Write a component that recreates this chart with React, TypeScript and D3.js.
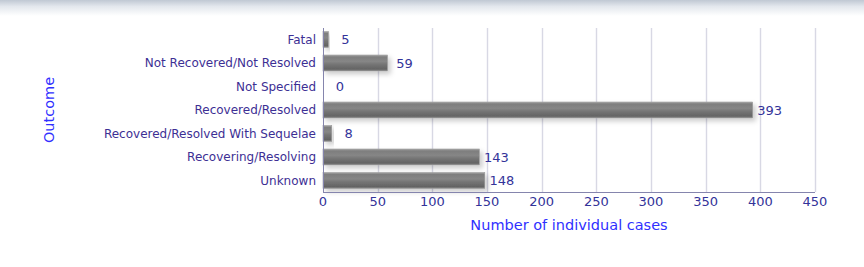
import React from "react";
import * as d3 from "d3";

const categories = [
  "Fatal",
  "Not Recovered/Not Resolved",
  "Not Specified",
  "Recovered/Resolved",
  "Recovered/Resolved With Sequelae",
  "Recovering/Resolving",
  "Unknown",
];
const values = [5, 59, 0, 393, 8, 143, 148];
const xTicks = [0, 50, 100, 150, 200, 250, 300, 350, 400, 450];
const xTitle = "Number of individual cases";
const yTitle = "Outcome";

const W = 864;
const H = 267;
const FONT = "'DejaVu Sans', Verdana, sans-serif";

export default function App() {
  const x = d3.scaleLinear().domain([0, 450]).range([323, 815]);
  const y = d3
    .scaleBand<string>()
    .domain(categories)
    .range([28, 192])
    .paddingInner(0.32)
    .paddingOuter(0.15);
  const bw = y.bandwidth();

  return (
    <svg
      width={W}
      height={H}
      style={{ position: "absolute", left: 0, top: 0, display: "block", fontFamily: FONT }}
    >
      <defs>
        <linearGradient id="topband" x1="0" y1="0" x2="0" y2="1">
          <stop offset="0%" stopColor="#c0c8d3" />
          <stop offset="40%" stopColor="#e3e7ed" />
          <stop offset="100%" stopColor="#ffffff" />
        </linearGradient>
        <linearGradient id="barfill" x1="0" y1="0" x2="0" y2="1">
          <stop offset="0%" stopColor="#a8a8a8" />
          <stop offset="12%" stopColor="#7e7e7e" />
          <stop offset="40%" stopColor="#868686" />
          <stop offset="60%" stopColor="#747474" />
          <stop offset="88%" stopColor="#646464" />
          <stop offset="100%" stopColor="#8c8c8c" />
        </linearGradient>
        <filter id="shadow" x="-10%" y="-40%" width="130%" height="200%">
          <feDropShadow dx="3" dy="3" stdDeviation="2.5" floodColor="#000" floodOpacity="0.2" />
        </filter>
      </defs>
      <rect x={0} y={0} width={W} height={H} fill="#ffffff" />
      <rect x={0} y={0} width={W} height={16} fill="url(#topband)" />

      {/* grid */}
      {xTicks.map((t) =>
        t === 0 ? null : (
          <line
            key={"g" + t}
            x1={Math.round(x(t)) + 0.5}
            x2={Math.round(x(t)) + 0.5}
            y1={28}
            y2={192}
            stroke="#d8d8e4"
            strokeWidth={1.4}
          />
        )
      )}

      {/* bars */}
      {categories.map((c, i) => {
        const v = values[i];
        const yy = y(c)!;
        return (
          <g key={c}>
            {v > 0 && (
              <rect
                x={x(0)}
                y={yy}
                width={x(v) - x(0)}
                height={bw}
                fill="url(#barfill)"
                stroke="#9a9a9a"
                strokeWidth={0.6}
                filter="url(#shadow)"
              />
            )}
            <text
              x={x(v) + 17}
              y={yy + bw / 2}
              dy="0.36em"
              textAnchor="middle"
              fontSize={13}
              fill="#333399"
            >
              {v}
            </text>
            <text
              x={316}
              y={yy + bw / 2}
              dy="0.36em"
              textAnchor="end"
              fontSize={12}
              fill="#3d2f94"
            >
              {c}
            </text>
          </g>
        );
      })}

      {/* axes */}
      <line x1={323.5} x2={323.5} y1={28} y2={192.5} stroke="#8585ad" strokeWidth={1} />
      <line x1={323} x2={815} y1={192.5} y2={192.5} stroke="#8585ad" strokeWidth={1} />

      {xTicks.map((t) => (
        <text
          key={"t" + t}
          x={x(t)}
          y={201}
          dy="0.36em"
          textAnchor="middle"
          fontSize={13}
          fill="#333399"
        >
          {t}
        </text>
      ))}

      <text
        x={(x(0) + x(450)) / 2}
        y={225}
        dy="0.36em"
        textAnchor="middle"
        fontSize={14.5}
        fill="#3030ff"
      >
        {xTitle}
      </text>
      <text
        transform={`translate(49,${(28 + 192) / 2}) rotate(-90)`}
        dy="0.36em"
        textAnchor="middle"
        fontSize={14.5}
        fill="#3030ff"
      >
        {yTitle}
      </text>
    </svg>
  );
}
